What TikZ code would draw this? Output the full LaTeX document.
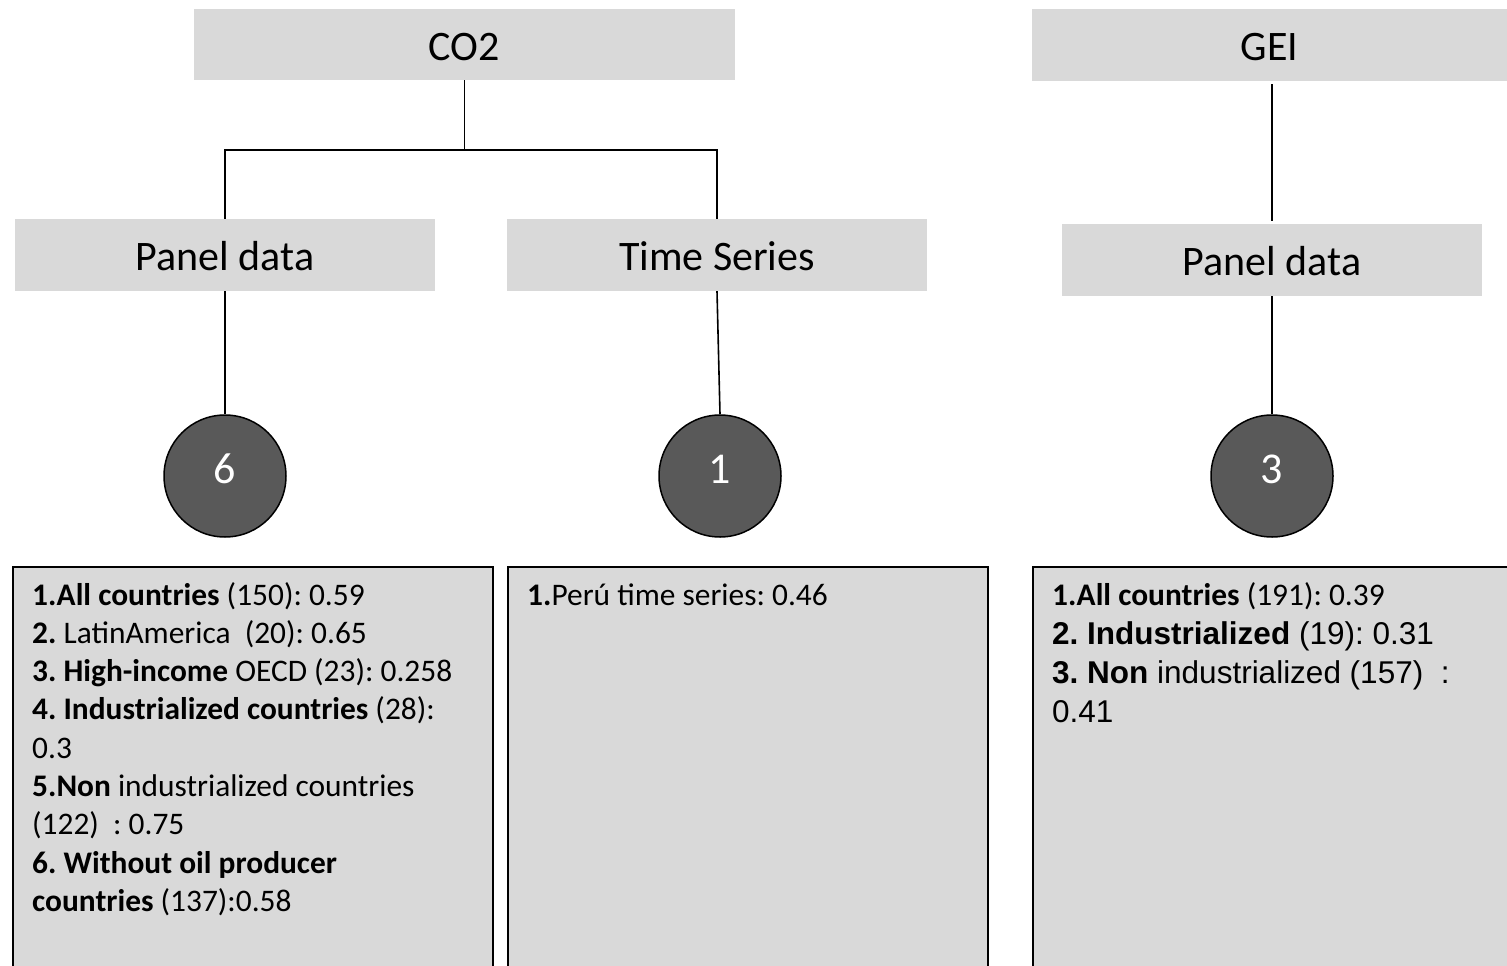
\documentclass[tikz,border=0pt]{standalone}
\usepackage{fontspec}
\setmainfont{Carlito}
\newfontfamily\arialf{Liberation Sans}
\definecolor{boxgray}{HTML}{D9D9D9}
\definecolor{circgray}{HTML}{595959}
\frenchspacing
\begin{document}
\begin{tikzpicture}[x=1pt,y=-1pt,
  topbox/.style={fill=boxgray, draw=none, inner sep=0pt, text height=31pt, text depth=0pt, font=\fontsize{42}{50}\selectfont},
  numcirc/.style={circle, fill=circgray, draw=black, line width=1.5pt, minimum size=122pt, inner sep=0pt, text=white, text height=28pt, text depth=14pt, font=\fontsize{44}{52}\selectfont},
  conn/.style={draw=black, line width=1.6pt},
  listbox/.style={fill=boxgray, draw=black, line width=1.8pt, anchor=north west, inner sep=0pt, minimum height=430pt},
  ln/.style={anchor=base west, inner sep=0pt, font=\frenchspacing\fontsize{31.4}{38}\selectfont},
  lnA/.style={anchor=base west, inner sep=0pt, font=\frenchspacing\arialf\fontsize{31.5}{38}\selectfont}]
\useasboundingbox (0,0) rectangle (1507,966);
\clip (0,0) rectangle (1507,966);

% top level boxes
\node[topbox, minimum width=541pt, minimum height=71pt] (co2) at (464.5,44.5) {CO2};
\node[topbox, minimum width=475pt, minimum height=72pt] (gei) at (1269.5,45) {GEI};
\node[topbox, minimum width=420pt, minimum height=72pt] (pd1) at (225,255) {Panel data};
\node[topbox, minimum width=420pt, minimum height=72pt] (ts) at (717,255) {Time Series};
\node[topbox, minimum width=420pt, minimum height=72pt] (pd2) at (1272,260) {Panel data};

% circles
\node[numcirc] (c6) at (225,476) {6};
\node[numcirc] (c1) at (720,476) {1};
\node[numcirc] (c3) at (1272,476) {3};

% connectors
\coordinate (br) at (464.5,150);
\draw[conn] (co2.south) -- (br);
\draw[conn] (pd1.north) |- (br) -| (ts.north);
\draw[conn] (pd1.south) -- (c6.north);
\draw[conn] (ts.south) -- (c1.north);
\draw[conn, shorten <=3pt, shorten >=3pt] (pd2.north) -- (pd2.north |- gei.south);
\draw[conn] (pd2.south) -- (c3.north);

% list boxes
\node[listbox, minimum width=480pt] (b1) at (12,566) {};
\node[listbox, minimum width=480pt] (b2) at (507,566) {};
\node[listbox, minimum width=500pt] (b3) at (1032,566) {};

% box 1 text
\node[ln] (t11) at (32,605) {\bfseries 1.All countries\mdseries{} (150): 0.59};
\node[ln] (t12) at (32,643.3) {\bfseries 2.\mdseries{} LatinAmerica\ \ (20): 0.65};
\node[ln] (t13) at (32,681.6) {\bfseries 3. High-income\mdseries{} OECD (23): 0.258};
\node[ln] (t14) at (32,719.9) {\bfseries 4. Industrialized countries\mdseries{} (28):};
\node[ln] (t15) at (32,758.2) {0.3};
\node[ln] (t16) at (32,796.5) {\bfseries 5.Non\mdseries{} industrialized countries};
\node[ln] (t17) at (32,834.8) {(122)\ \ : 0.75};
\node[ln] (t18) at (32,873.1) {\bfseries 6. Without oil producer};
\node[ln] (t19) at (32,911.4) {\bfseries countries\mdseries{} (137):0.58};

% box 2 text
\node[ln] (t21) at (527,605) {\bfseries 1.\mdseries Perú time series: 0.46};

% box 3 text
\node[ln] (t31) at (1052,605) {\bfseries 1.All countries\mdseries{} (191): 0.39};
\node[lnA] (t32) at (1052,644) {\bfseries 2. Industrialized\mdseries{} (19): 0.31};
\node[lnA] (t33) at (1052,683) {\bfseries 3. Non\mdseries{} industrialized (157)\ \ :};
\node[lnA] (t34) at (1052,722) {0.41};
\end{tikzpicture}
\end{document}
